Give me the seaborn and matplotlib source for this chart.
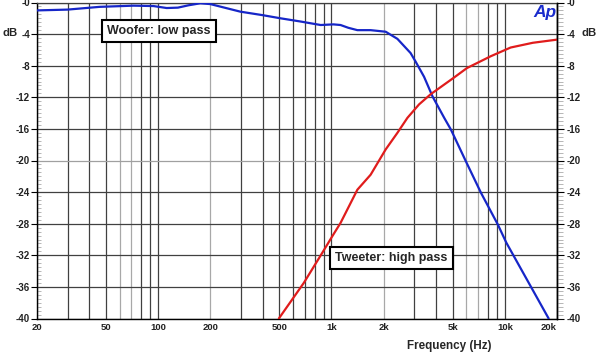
import numpy as np
import pandas as pd
import matplotlib
matplotlib.use("Agg")
import matplotlib.pyplot as plt
from matplotlib.ticker import MultipleLocator, FixedLocator, NullFormatter
import seaborn as sns

# ---- data ----
woofer_freq = [20, 30, 46, 72, 94, 112, 130, 150, 175, 200, 298, 400, 508, 660, 866,
               1027, 1128, 1250, 1410, 1682, 2054, 2400, 2860, 3060, 3420, 3830,
               4470, 4890, 5960, 7290, 9110, 10200, 17900]
woofer_db = [-1.0, -0.9, -0.55, -0.4, -0.45, -0.7, -0.65, -0.35, -0.1, -0.2, -1.16, -1.6,
             -2.0, -2.4, -2.85, -2.77, -2.85, -3.2, -3.5, -3.5, -3.7, -4.6, -6.4, -7.5,
             -9.4, -11.9, -14.6, -16.1, -20.1, -24.1, -28.1, -30.4, -40.0]

tweeter_freq = [497, 692, 884, 1010, 1128, 1410, 1682, 2054, 2400, 2742, 3200, 3740,
                5093, 6045, 8300, 10800, 14500, 20000]
tweeter_db = [-40.0, -35.5, -31.7, -29.6, -27.9, -23.7, -21.8, -18.6, -16.5, -14.6,
              -12.9, -11.6, -9.5, -8.3, -6.8, -5.7, -5.1, -4.7]

x_label_ticks = [20, 50, 100, 200, 500, 1000, 2000, 5000, 10000, 20000]
x_label_text = ["20", "50", "100", "200", "500", "1k", "2k", "5k", "10k", "20k"]
y_ticks = list(range(-40, 1, 4))
y_tick_text = ["-" + str(abs(v)) for v in y_ticks]

series_names = ["Woofer", "Tweeter"]
series_colors = ["#1626c8", "#e01c1c"]

# ---- table ----
df = pd.concat([
    pd.DataFrame({"freq": woofer_freq, "db": woofer_db, "s": series_names[0]}),
    pd.DataFrame({"freq": tweeter_freq, "db": tweeter_db, "s": series_names[1]}),
])

sns.set_style("white")
plt.rcParams["font.family"] = ["Liberation Sans", "DejaVu Sans"]

W, H = 600, 353
fig = plt.figure(figsize=(6.0, 3.53), dpi=100)
L, R, T, B = 37, 557, 2.5, 318.5
ax = fig.add_axes([L / W, 1 - B / H, (R - L) / W, (B - T) / H])

ax.set_xscale("log")
ax.set_xlim(20, 20000)
ax.set_ylim(-40, 0)

# grid lines (vertical at 1-2-...-9 per decade)
grid_pos = []
for dec in [10, 100, 1000, 10000]:
    for m in range(1, 10):
        v = m * dec
        if 20 <= v <= 20000:
            grid_pos.append(v)
light = {60, 70, 200, 2000, 6000, 7000}
ax.xaxis.set_major_locator(FixedLocator(x_label_ticks))
ax.set_xticklabels(x_label_text)
ax.xaxis.set_minor_locator(FixedLocator([g for g in grid_pos if g not in x_label_ticks]))
ax.xaxis.set_minor_formatter(NullFormatter())
ax.grid(axis="x", which="both", lw=0.9)
for g, line in zip(x_label_ticks, ax.xaxis.get_gridlines()):
    line.set_color("#a8a8a8" if g in light else "#404040")
minor_vals = [g for g in grid_pos if g not in x_label_ticks]
for g, tick in zip(minor_vals, ax.xaxis.get_minor_ticks()):
    tick.gridline.set_color("#a8a8a8" if g in light else "#404040")
    tick.gridline.set_linewidth(0.9)
    tick.gridline.set_visible(True)

ax.set_yticks(y_ticks)
ax.set_yticklabels(y_tick_text)
ax.yaxis.set_minor_locator(MultipleLocator(0.5))
ax.grid(axis="y", which="major", color="#404040", lw=0.9)
for v, line in zip(y_ticks, ax.yaxis.get_gridlines()):
    if v == -20:
        line.set_color("#a0a0a0")

sns.lineplot(data=df, x="freq", y="db", hue="s", palette=series_colors,
             hue_order=series_names, lw=1.6, legend=False, ax=ax, sort=False,
             estimator=None, zorder=5)
ax.set_xlabel("")
ax.set_ylabel("")

for side in ["left", "bottom", "right"]:
    ax.spines[side].set_color("black")
    ax.spines[side].set_linewidth(1.0)
    ax.spines[side].set_visible(True)
ax.spines["top"].set_color("#404040")
ax.spines["top"].set_linewidth(0.9)

ax.tick_params(axis="x", which="both", length=0, labelsize=6.8, pad=3.5)
for lab in ax.get_xticklabels():
    lab.set_fontweight("bold")
    lab.set_color("#222222")
ax.get_xticklabels()[-1].set_horizontalalignment("right")
ax.tick_params(axis="y", which="major", direction="out", length=4, width=0.8,
               color="black", labelsize=7, pad=1)
ax.tick_params(axis="y", which="minor", direction="in", length=3, width=0.5,
               color="#9a9a9a")
for lab in ax.get_yticklabels():
    lab.set_fontweight("bold")
    lab.set_color("#222222")

ax2 = ax.twinx()
ax2.set_ylim(-40, 0)
ax2.set_yticks(y_ticks)
ax2.set_yticklabels(y_tick_text)
ax2.yaxis.set_minor_locator(MultipleLocator(0.5))
ax2.grid(False)
for s in ["left", "top", "bottom"]:
    ax2.spines[s].set_visible(False)
ax2.spines["right"].set_color("black")
ax2.spines["right"].set_linewidth(1.0)
ax2.tick_params(axis="y", which="major", direction="out", length=5, width=0.8,
                color="black", labelsize=7, pad=2)
ax2.tick_params(axis="y", which="minor", direction="out", length=4, width=0.5,
                color="#9a9a9a")
for lab in ax2.get_yticklabels():
    lab.set_fontweight("bold")
    lab.set_color("#222222")

box = dict(boxstyle="square,pad=0.4", fc="white", ec="black", lw=1.5)
ax.text((159 - L) / (R - L), 1 - (31 - T) / (B - T), "Woofer: low pass",
        transform=ax.transAxes, ha="center", va="center", fontsize=9,
        weight="bold", bbox=box, zorder=10)
ax.text((391.5 - L) / (R - L), 1 - (258 - T) / (B - T), "Tweeter: high pass",
        transform=ax.transAxes, ha="center", va="center", fontsize=9,
        weight="bold", bbox=box, zorder=10)

fig.text(10 / W, 1 - 32.7 / H, "dB", ha="center", va="center", fontsize=8.2,
         weight="bold")
fig.text(589 / W, 1 - 33.3 / H, "dB", ha="center", va="center", fontsize=8.2,
         weight="bold")
fig.text(449 / W, 1 - 346 / H, "Frequency (Hz)", ha="center", va="center",
         fontsize=8.4, weight="bold")
fig.text(545 / W, 1 - 13 / H, "Ap", ha="center", va="center", fontsize=12.5,
         weight="bold", style="italic", color="#1a2ccc", zorder=20)

fig.savefig("out.png", dpi=100)
